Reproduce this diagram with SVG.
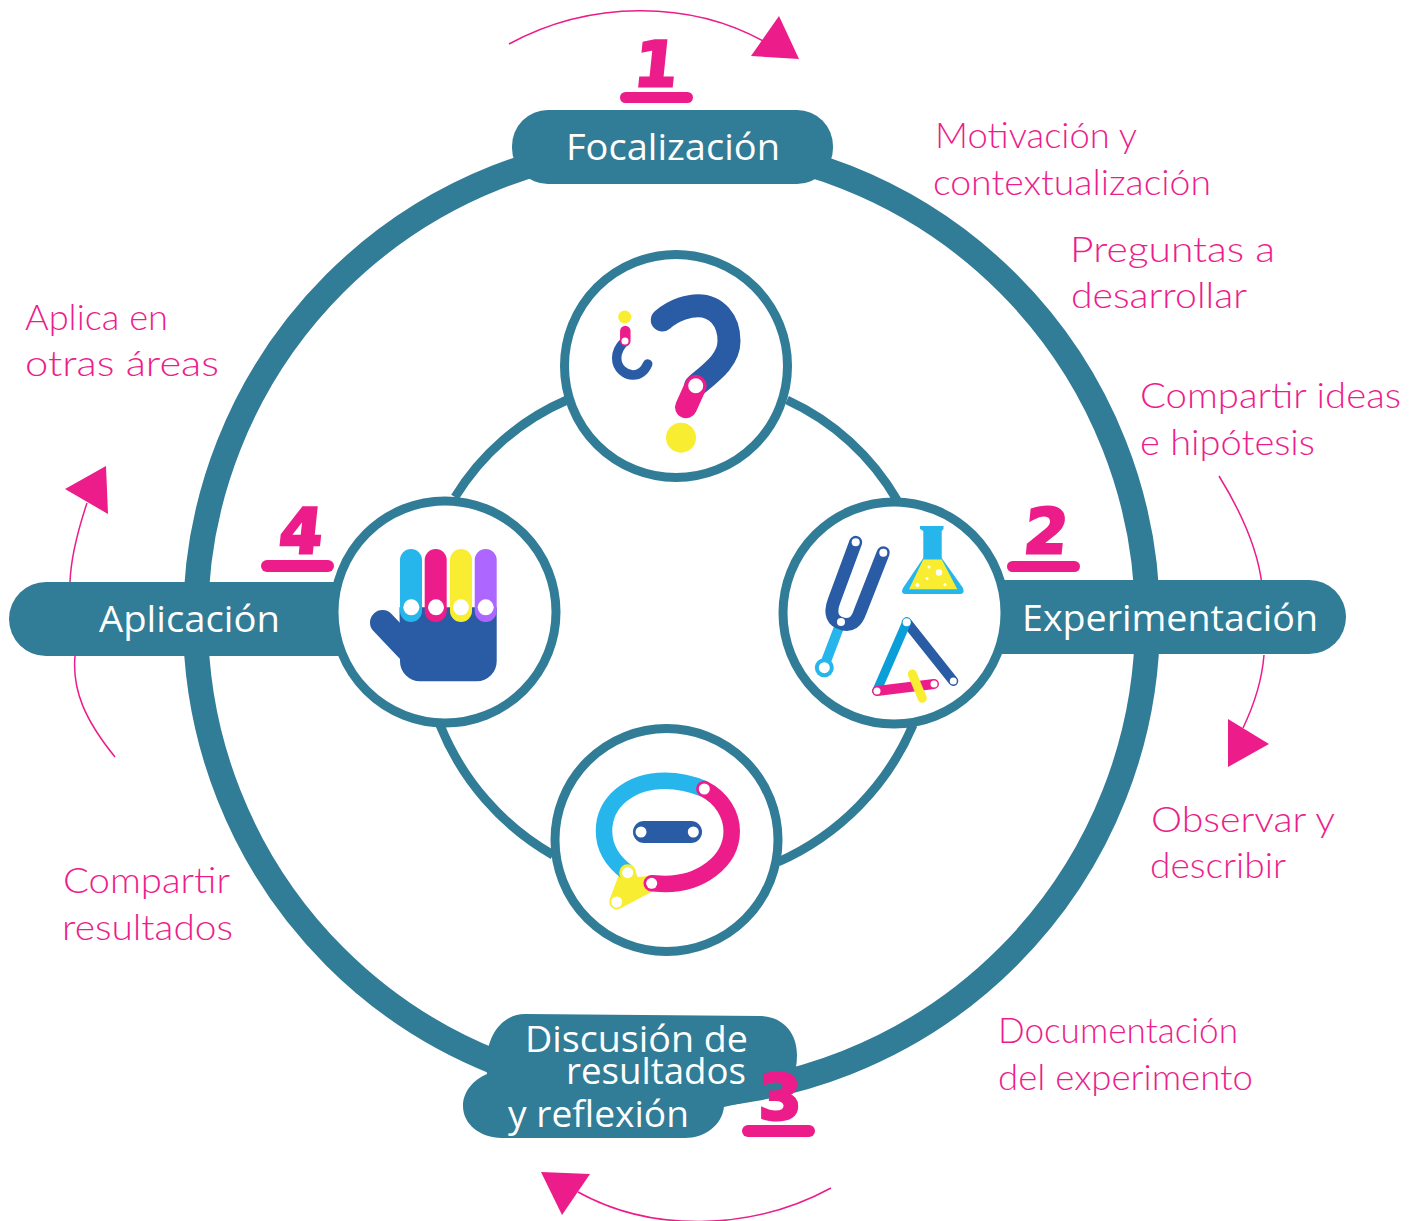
<svg xmlns="http://www.w3.org/2000/svg" width="1419" height="1221" viewBox="0 0 1419 1221">
<style>
.teal{fill:#317c96}
.label{font-family:"Open Sans","Noto Sans",sans-serif;font-size:37px;fill:#fff}
.hand{font-family:"Lato","Open Sans",sans-serif;font-size:36px;font-weight:300;fill:#ec1e8c;stroke:none}
.num{font-family:"DejaVu Sans",sans-serif;font-weight:bold;font-size:62px;fill:#ec1c8a;stroke:#ec1c8a;stroke-width:3;text-anchor:middle}
.ul{fill:#ec1c8a}
.ring{fill:#fff;stroke:#317c96;stroke-width:9}
.conn{fill:none;stroke:#317c96;stroke-width:9}
.thin{fill:none;stroke:#ec1c8a;stroke-width:1.5}
.tri{fill:#ec1c8a}
.dot{fill:#fff}
.b{fill:none;stroke-linecap:round}
</style>
<rect width="1419" height="1221" fill="#fff"/>
<g id="connectors">
<circle cx="671.5" cy="620" r="476" fill="none" stroke="#317c96" stroke-width="25"/>
<path class="conn" d="M567 400 A245 245 0 0 0 455 497"/>
<path class="conn" d="M787 400 A245 245 0 0 1 897 500"/>
<path class="conn" d="M913 725 A262 262 0 0 1 778 862"/>
<path class="conn" d="M440 725 A262 262 0 0 0 553 855"/>
<path class="thin" d="M509 44 C590 0 690 0 765 42"/>
<path class="thin" d="M1219 476 C1243 515 1258 550 1262 585 M1264 655 C1262 680 1254 705 1243 728"/>
<path class="thin" d="M831 1188 C750 1232 650 1232 578 1192"/>
<path class="thin" d="M115 757 C85 720 72 690 75 656 M70 582 C71 555 78 530 87 503"/>
<polygon class="tri" points="779,16 799,59 751,56"/>
<polygon class="tri" points="1228,719 1269,744 1228,767"/>
<polygon class="tri" points="541,1172 590,1174 562,1215"/>
<polygon class="tri" points="65,489 106,466 108,514"/>
</g>
<g id="focalizacion">
<rect class="teal" x="512" y="110" width="321" height="74" rx="36"/>
<text class="label" x="566" y="160" textLength="214" lengthAdjust="spacingAndGlyphs">Focalización</text>
<rect class="ul" x="620" y="92" width="73" height="11" rx="5.5"/>
<text class="num" transform="translate(654 86) skewX(-6)">1</text>
</g>
<g id="aplicacion">
<path class="teal" d="M46 582 H345 V656 H46 A37 37 0 0 1 46 582 Z"/>
<text class="label" x="99" y="632" textLength="181" lengthAdjust="spacingAndGlyphs">Aplicación</text>
<rect class="ul" x="261" y="560" width="73" height="12" rx="6"/>
<text class="num" transform="translate(299 553) skewX(-6)">4</text>
</g>
<g id="experimentacion">
<path class="teal" d="M995 580 H1309 A37 37 0 0 1 1309 654 H995 Z"/>
<text class="label" x="1022" y="631" textLength="296" lengthAdjust="spacingAndGlyphs">Experimentación</text>
<rect class="ul" x="1007" y="561" width="73" height="11" rx="5.5"/>
<text class="num" transform="translate(1044 553) skewX(-6)">2</text>
</g>
<g id="discusion">
<path class="teal" d="M525 1014 L760 1016 C785 1017 797 1035 797 1055 C797 1075 790 1088 778 1095 L724 1107 C722 1125 705 1138 685 1138 L502 1138 C480 1138 463 1124 463 1106 C463 1092 473 1080 487 1074 C483 1040 500 1014 525 1014 Z"/>
<text class="label" x="525" y="1052" textLength="223" lengthAdjust="spacingAndGlyphs">Discusión de</text>
<text class="label" x="566" y="1084" textLength="180" lengthAdjust="spacingAndGlyphs">resultados</text>
<text class="label" x="508" y="1127" textLength="181" lengthAdjust="spacingAndGlyphs">y reflexión</text>
<rect class="ul" x="742" y="1125" width="73" height="12" rx="6"/>
<text class="num" x="780" y="1119">3</text>
</g>
<g id="icon-question">
<circle class="ring" cx="676" cy="366" r="111.5"/>
<path class="b" stroke="#2a5ba5" stroke-width="23" d="M662.3 320 C675 309 690 305.7 698 305.7 C716 305.7 729 320 729 341 C729 360 712 372 695.7 385.7"/>
<path class="b" stroke="#ec1c8a" stroke-width="22" d="M695.7 385.7 L686 407.3"/>
<circle class="dot" cx="695.7" cy="385.7" r="7.5"/>
<circle cx="681" cy="437.7" r="15" fill="#f9ed32"/>
<circle cx="624.7" cy="317" r="6.5" fill="#f9ed32"/>
<path class="b" stroke="#2a5ba5" stroke-width="9.5" d="M625 341 C618 348 616.7 353 616.7 358 C616.7 369 626 375 633 375 C640 375 645 370 647.7 364"/>
<path class="b" stroke="#ec1c8a" stroke-width="10.5" d="M625.3 331 V341"/>
<circle class="dot" cx="625" cy="341" r="3.5"/>
</g>
<g id="icon-experiment">
<circle class="ring" cx="894" cy="613" r="111"/>
<path class="b" stroke="#27b6ec" stroke-width="10" d="M841 622 L825 664"/>
<circle cx="824.3" cy="667.7" r="9.5" fill="#27b6ec"/>
<circle class="dot" cx="824.3" cy="667.7" r="5.5"/>
<path class="b" stroke="#2a5ba5" stroke-width="13" d="M855.7 542.3 L834 601 Q827 620 843 624 Q855 627 860 612 L883.3 552.7"/>
<circle class="dot" cx="855.7" cy="542.3" r="4"/>
<circle class="dot" cx="883.3" cy="552.7" r="4"/>
<circle class="dot" cx="841" cy="622" r="4"/>
<path fill="#27b6ec" d="M920 526 H943.5 V529 L941.7 531 V558 L963 588 Q965 594 960 594 H906 Q900 594 903 588 L923.3 558 V531 L920 529 Z"/>
<path fill="#f9ed32" d="M923.3 559.5 H941.7 L957.3 589.3 H909 Z"/>
<circle class="dot" cx="939" cy="572.5" r="3.2"/>
<circle class="dot" cx="929" cy="567" r="1.5"/>
<circle class="dot" cx="927" cy="578.5" r="1.5"/>
<circle class="dot" cx="917.5" cy="585" r="2"/>
<circle class="dot" cx="945" cy="584.5" r="1.5"/>
<path class="b" stroke="#2a5ba5" stroke-width="10" d="M906.7 622.3 L953.3 681"/>
<path class="b" stroke="#0b9fda" stroke-width="9" d="M906.7 622.3 L876.7 691"/>
<path class="b" stroke="#ec1c8a" stroke-width="10" d="M877 691 L934 684"/>
<path class="b" stroke="#f9ed32" stroke-width="9" d="M912.3 674 L922.3 698.3"/>
<circle class="dot" cx="906.7" cy="622.3" r="4"/>
<circle class="dot" cx="953.3" cy="681" r="3.5"/>
<circle class="dot" cx="877" cy="691" r="3.5"/>
<circle class="dot" cx="934" cy="684" r="3.5"/>
</g>
<g id="icon-discussion">
<circle class="ring" cx="666.5" cy="840" r="111.5"/>
<path fill="#f9ed32" stroke="#f9ed32" stroke-width="15" stroke-linejoin="round" d="M627.7 872.7 L616.7 902 L651.7 883.3 L633 885 Z"/>
<path fill="none" stroke="#27b6ec" stroke-width="16.5" d="M704.3 789 C690 783 678 780.7 665 780.7 C630 780.7 604 802 604 831 C604 848 613 862 627.7 872.7"/>
<path class="b" stroke="#ec1c8a" stroke-width="16.5" d="M704.3 789 C722 798 731.7 815 731.7 831 C731.7 862 700 884 665 884 L651.7 883.3"/>
<circle cx="627.7" cy="872.7" r="8.5" fill="#f9ed32"/>
<rect x="633" y="821" width="69" height="22" rx="11" fill="#2a5ba5"/>
<circle class="dot" cx="641" cy="832" r="5.5"/>
<circle class="dot" cx="693.3" cy="832" r="5.5"/>
<circle class="dot" cx="704.3" cy="789" r="5.5"/>
<circle class="dot" cx="627.7" cy="872.7" r="5.5"/>
<circle class="dot" cx="616.7" cy="902" r="5.5"/>
<circle class="dot" cx="651.7" cy="883.3" r="5.5"/>
</g>
<g id="icon-hand">
<circle class="ring" cx="445" cy="612" r="111"/>
<path class="b" stroke="#2a5ba5" stroke-width="25" d="M382.5 622.5 L420 662"/>
<path fill="#2a5ba5" d="M399.5 607.3 H496.7 V661 A20 20 0 0 1 476.7 681.3 H420 A20 20 0 0 1 400 661 Z"/>
<rect x="400" y="549" width="22" height="73" rx="11" fill="#27b6ec"/>
<rect x="424.7" y="549" width="22" height="73" rx="11" fill="#ec1c8a"/>
<rect x="450" y="549" width="22" height="73" rx="11" fill="#f9ed32"/>
<rect x="474.7" y="549" width="22" height="73" rx="11" fill="#ad66ff"/>
<circle class="dot" cx="411.3" cy="607.3" r="8"/>
<circle class="dot" cx="436" cy="607.3" r="8"/>
<circle class="dot" cx="461" cy="607.3" r="8"/>
<circle class="dot" cx="485.7" cy="607.3" r="8"/>
</g>
<g id="notes">
<text class="hand" x="935" y="148" textLength="202" lengthAdjust="spacingAndGlyphs">Motivación y</text>
<text class="hand" x="933" y="195" textLength="278" lengthAdjust="spacingAndGlyphs">contextualización</text>
<text class="hand" x="1070" y="262" textLength="205" lengthAdjust="spacingAndGlyphs">Preguntas a</text>
<text class="hand" x="1071" y="308" textLength="176" lengthAdjust="spacingAndGlyphs">desarrollar</text>
<text class="hand" x="1140" y="408" textLength="261" lengthAdjust="spacingAndGlyphs">Compartir ideas</text>
<text class="hand" x="1140" y="455" textLength="175" lengthAdjust="spacingAndGlyphs">e hipótesis</text>
<text class="hand" x="1151" y="832" textLength="184" lengthAdjust="spacingAndGlyphs">Observar y</text>
<text class="hand" x="1150" y="878" textLength="136" lengthAdjust="spacingAndGlyphs">describir</text>
<text class="hand" x="998" y="1043" textLength="240" lengthAdjust="spacingAndGlyphs">Documentación</text>
<text class="hand" x="998" y="1090" textLength="255" lengthAdjust="spacingAndGlyphs">del experimento</text>
<text class="hand" x="63" y="893" textLength="167" lengthAdjust="spacingAndGlyphs">Compartir</text>
<text class="hand" x="62" y="940" textLength="171" lengthAdjust="spacingAndGlyphs">resultados</text>
<text class="hand" x="25" y="330" textLength="143" lengthAdjust="spacingAndGlyphs">Aplica en</text>
<text class="hand" x="25" y="376" textLength="194" lengthAdjust="spacingAndGlyphs">otras áreas</text>
</g>
</svg>
